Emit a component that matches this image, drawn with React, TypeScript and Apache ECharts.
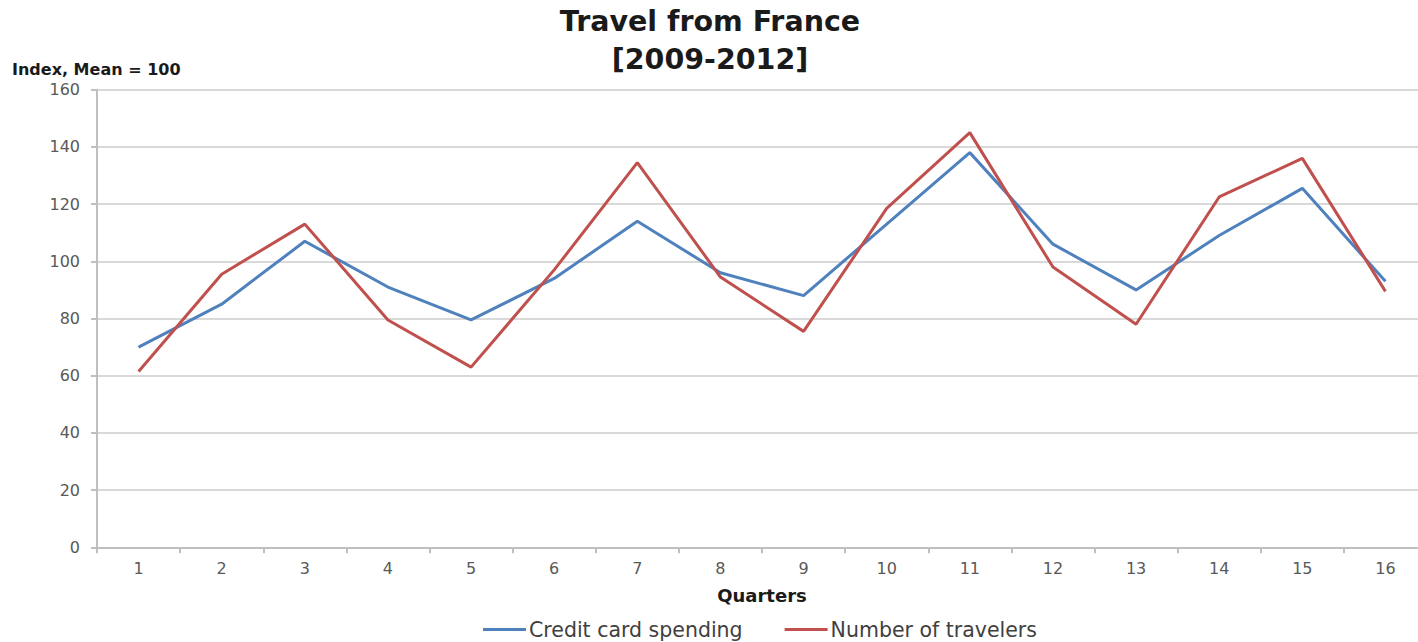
import React, { useEffect, useRef } from "react";
import * as echarts from "echarts";

const quarters = ["1", "2", "3", "4", "5", "6", "7", "8", "9", "10", "11", "12", "13", "14", "15", "16"];
const creditCardSpending = [70, 85, 107, 91, 79.5, 94, 114, 96, 88, 113, 138, 106, 90, 109, 125.5, 93];
const numberOfTravelers = [61.5, 95.5, 113, 79.5, 63, 97, 134.5, 94.5, 75.5, 118.5, 145, 98, 78, 122.5, 136, 89.5];
const yTicks = { min: 0, max: 160, interval: 20 };

const FONT = "'DejaVu Sans', 'Liberation Sans', Arial, sans-serif";

// The plot area runs slightly past the visible frame on the right,
// so the chart canvas is wider than its clipping wrapper.
const FRAME_W = 1418;
const FRAME_H = 642;
const CHART_W = 1432;

export default function App() {
  const ref = useRef<HTMLDivElement>(null);

  useEffect(() => {
    if (!ref.current) return;
    const chart = echarts.init(ref.current, undefined, { renderer: "svg" });
    chart.setOption({
      animation: false,
      backgroundColor: "#ffffff",
      textStyle: { fontFamily: FONT },
      title: {
        text: "Travel from France\n[2009-2012]",
        left: 705,
        textAlign: "center",
        top: -3,
        textStyle: {
          fontFamily: FONT,
          fontSize: 28.5,
          fontWeight: "bold",
          color: "#1a1a1a",
          lineHeight: 38,
        },
      },
      legend: {
        top: 614,
        left: 478,
        icon: "rect",
        itemWidth: 43,
        itemHeight: 3,
        itemGap: 42,
        textStyle: { fontFamily: FONT, fontSize: 20.5, color: "#404040", padding: [0, 0, 0, -2] },
        data: ["Credit card spending", "Number of travelers"],
      },
      grid: { left: 97, right: CHART_W - 1427, top: 89.7, bottom: 94.7, containLabel: false },
      xAxis: {
        type: "category",
        data: quarters,
        boundaryGap: true,
        name: "Quarters",
        nameLocation: "middle",
        nameGap: 39,
        nameTextStyle: { fontFamily: FONT, fontSize: 18, fontWeight: "bold", color: "#1a1a1a" },
        axisLine: { lineStyle: { color: "#bfbfbf", width: 2 } },
        axisTick: { show: true, length: 6, lineStyle: { color: "#bfbfbf", width: 2 } },
        axisLabel: { fontFamily: FONT, fontSize: 16, color: "#595959", margin: 13 },
      },
      yAxis: {
        type: "value",
        min: yTicks.min,
        max: yTicks.max,
        interval: yTicks.interval,
        name: "Index, Mean = 100",
        nameLocation: "end",
        nameGap: 12,
        nameTextStyle: {
          fontFamily: FONT,
          fontSize: 16,
          fontWeight: "bold",
          color: "#1a1a1a",
          align: "left",
          padding: [0, 0, 0, -85],
        },
        axisLine: { show: true, lineStyle: { color: "#bfbfbf", width: 2 } },
        axisTick: { show: true, length: 6, lineStyle: { color: "#bfbfbf", width: 2 } },
        axisLabel: { fontFamily: FONT, fontSize: 16, color: "#595959", margin: 17 },
        splitLine: { lineStyle: { color: "#d9d9d9", width: 2 } },
      },
      series: [
        {
          name: "Credit card spending",
          type: "line",
          data: creditCardSpending,
          symbol: "none",
          lineStyle: { color: "#4f81bd", width: 3 },
          itemStyle: { color: "#4f81bd" },
        },
        {
          name: "Number of travelers",
          type: "line",
          data: numberOfTravelers,
          symbol: "none",
          lineStyle: { color: "#c0504d", width: 3 },
          itemStyle: { color: "#c0504d" },
        },
      ],
    });
    return () => chart.dispose();
  }, []);

  return (
    <div
      style={{
        position: "absolute",
        left: 0,
        top: 0,
        width: FRAME_W,
        height: FRAME_H,
        overflow: "hidden",
        background: "#ffffff",
      }}
    >
      <div ref={ref} style={{ width: CHART_W, height: FRAME_H }} />
    </div>
  );
}
